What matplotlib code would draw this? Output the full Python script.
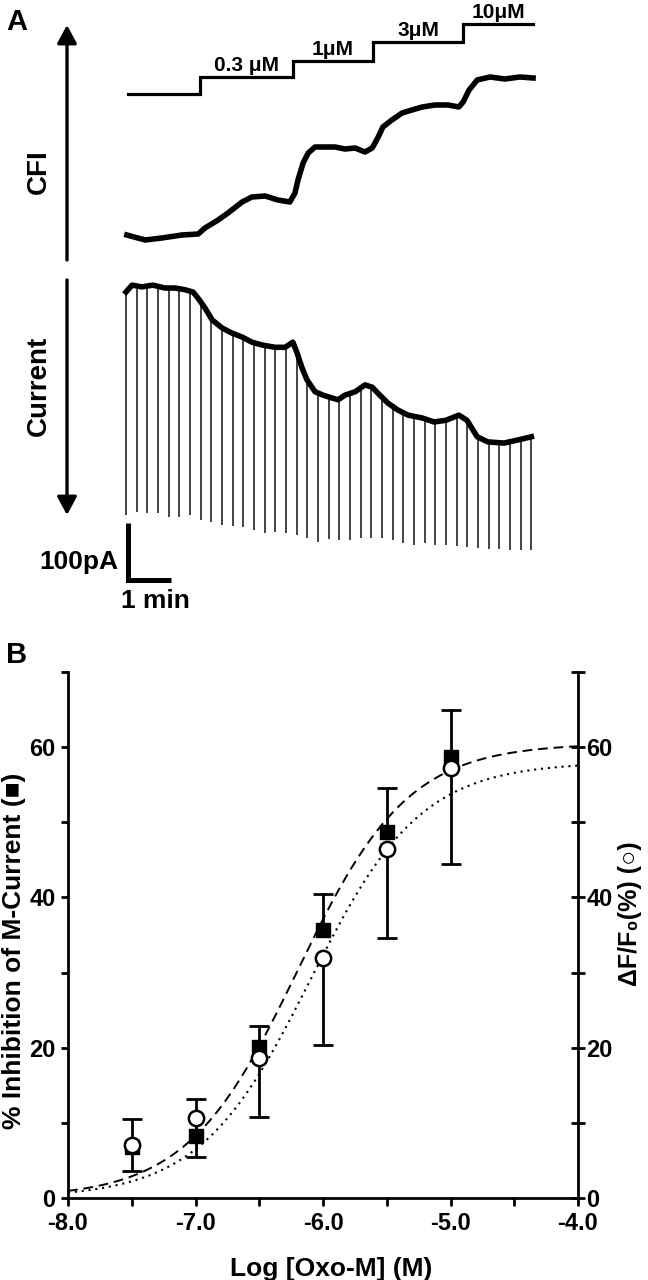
import numpy as np
import matplotlib
matplotlib.use("Agg")
import matplotlib.pyplot as plt

plt.rcParams['font.family'] = ['Liberation Sans', 'DejaVu Sans']
plt.rcParams['font.weight'] = 'bold'

# ---------------- Panel A data ----------------
# time in min, CFI in arbitrary units
cfi_t = [0.02, 0.45, 0.84, 1.31, 1.69, 1.85, 2.16, 2.39, 2.72, 2.95, 3.26, 3.56,
         3.84, 3.96, 4.03, 4.15, 4.27, 4.43, 4.66, 4.90, 5.13, 5.37, 5.60, 5.77,
         5.91, 6.02, 6.23, 6.47, 6.70, 6.94, 7.24, 7.55, 7.80, 7.90, 8.04, 8.23,
         8.53, 8.88, 9.23, 9.54]
cfi_au = [15, 10, 12, 15, 16, 22, 30, 37, 48, 53, 54, 50,
          48, 57, 70, 87, 97, 103, 103, 103, 101, 102, 98, 102,
          113, 123, 130, 137, 140, 143, 145, 145, 143, 148, 160, 170,
          173, 171, 173, 172]

# Oxo-M application steps (schematic)
conc_edges_t = [0.05, 1.73, 3.91, 5.79, 7.90, 9.54]
conc_level = [156, 173, 189, 208, 226]
conc_labels = ['', '0.3 μM', '1μM', '3μM', '10μM']

# holding current trace (pA)
cur_t = [0.00, 0.14, 0.37, 0.63, 0.91, 1.15, 1.38, 1.57, 1.69, 1.85, 2.02, 2.25,
         2.48, 2.72, 2.95, 3.19, 3.49, 3.73, 3.91, 4.01, 4.12, 4.24, 4.43, 4.62,
         4.83, 4.97, 5.13, 5.37, 5.60, 5.77, 5.95, 6.14, 6.37, 6.61, 6.94, 7.22,
         7.50, 7.80, 7.99, 8.23, 8.48, 8.86, 9.16, 9.50]
cur_pA = [450, 462, 459, 462, 457, 457, 454, 450, 439, 422, 401, 387,
          378, 371, 362, 357, 353, 353, 362, 343, 318, 296, 275, 269,
          264, 261, 269, 275, 287, 283, 269, 255, 243, 234, 229, 222,
          225, 234, 225, 196, 187, 185, 190, 196]

# deactivation relaxations (every 15 s), lowest point of each
spike_t = [0.0, 0.25, 0.5, 0.75, 1.0, 1.25, 1.5, 1.75, 2.0, 2.25, 2.5, 2.75, 3.0,
           3.25, 3.5, 3.75, 4.0, 4.25, 4.5, 4.75, 5.0, 5.25, 5.5, 5.75, 6.0, 6.25,
           6.5, 6.75, 7.0, 7.25, 7.5, 7.75, 8.0, 8.25, 8.5, 8.75, 9.0, 9.25, 9.5]
spike_min_pA = [59, 64, 62, 62, 55, 55, 59, 50, 46, 41, 39, 38, 32, 27,
                29, 27, 24, 18, 11, 17, 15, 15, 18, 18, 18, 15, 10, 6, 10, 6,
                6, 4, 3, 1, -1, -1, -3, -3, -3]

# ---------------- Panel B data ----------------
log_oxo = [-7.5, -7.0, -6.5, -6.0, -5.5, -5.0]
inhib_mean = [6.8, 8.2, 20.1, 35.6, 48.7, 58.7]
inhib_sem = [3.7, 5.0, 2.8, 4.8, 5.9, 6.3]      # drawn upward
dff_mean = [7.0, 10.6, 18.6, 32.0, 46.4, 57.2]
dff_sem = [3.4, 5.1, 7.8, 11.7, 11.8, 12.7]     # drawn downward

# Hill fits: top, logEC50, slope
inhib_fit = (60.5, -6.2, 1.0)
dff_fit = (58.0, -6.1, 1.0)


def hill(x, top, logec50, slope):
    return top / (1 + 10 ** ((logec50 - x) * slope))


fig = plt.figure(figsize=(6.48, 12.8), dpi=100)
W, H = 648, 1280

# ---- Panel A: fluorescence ----
xlim_a = (-2.953, 12.233)
ax_cfi = fig.add_axes([0, 1 - 270 / H, 1, 270 / H])
ax_cfi.set_xlim(*xlim_a)
ax_cfi.set_ylim(-20, 250)
ax_cfi.axis('off')

ax_cfi.step(conc_edges_t, conc_level + [conc_level[-1]], where='post',
            color='k', lw=2.3, solid_joinstyle='miter')
for i in range(1, len(conc_level)):
    xm = (conc_edges_t[i] + conc_edges_t[i + 1]) / 2
    ax_cfi.annotate(conc_labels[i], (xm, conc_level[i]), xytext=(0, 1.5),
                    textcoords='offset points', ha='center', va='bottom',
                    fontsize=15, fontweight='bold')
ax_cfi.plot(cfi_t, cfi_au, color='k', lw=4.0, solid_joinstyle='round')

# ---- Panel A: current ----
ax_cur = fig.add_axes([0, 0.5, 1, 370 / H])
ax_cur.set_xlim(*xlim_a)
ax_cur.set_ylim(-160.5, 488.6)
ax_cur.axis('off')

spike_top = np.interp(spike_t, cur_t, cur_pA)
ax_cur.vlines(spike_t, spike_min_pA, spike_top, color='#111111', lw=1.1)
ax_cur.plot(cur_t, cur_pA, color='k', lw=4.0)

# scale bar 100 pA / 1 min
sb_t, sb_i = 0.05, -55
ax_cur.plot([sb_t, sb_t, sb_t + 1], [sb_i + 100, sb_i, sb_i], color='k',
            lw=3.6, solid_joinstyle='miter', solid_capstyle='butt')
ax_cur.text(sb_t - 0.24, sb_i + 31, '100pA', ha='right', va='center', fontsize=19)
ax_cur.text(sb_t + 0.65, sb_i - 37, '1 min', ha='center', va='center', fontsize=19)

# arrows and side labels
ax_x = 67 / W
arrow_kw = dict(arrowstyle='-|>,head_length=0.5,head_width=0.27', lw=2.4,
                color='k', mutation_scale=22, shrinkA=0, shrinkB=0)
ax_cfi.annotate('', xy=(ax_x, 1 - 25 / H), xytext=(ax_x, 1 - 260 / H),
                xycoords='figure fraction', textcoords='figure fraction',
                arrowprops=arrow_kw)
ax_cfi.annotate('', xy=(ax_x, 1 - 515 / H), xytext=(ax_x, 1 - 280 / H),
                xycoords='figure fraction', textcoords='figure fraction',
                arrowprops=arrow_kw)
fig.text(39 / W, 1 - 172 / H, 'CFI', rotation=90, ha='center', va='center', fontsize=20)
fig.text(38.5 / W, 1 - 386 / H, 'Current', rotation=90, ha='center', va='center', fontsize=20)
fig.text(17 / W, 1 - 22 / H, 'A', ha='center', va='center', fontsize=21)
fig.text(17 / W, 1 - 655 / H, 'B', ha='center', va='center', fontsize=21)

# ---- Panel B ----
ax = fig.add_axes([68 / W, 82 / H, 510 / W, 526 / H])
ax2 = ax.twinx()

xs = np.linspace(-8, -4, 300)
ax.plot(xs, hill(xs, *inhib_fit), color='k', lw=1.4, dashes=(5, 3))
ax.plot(xs, hill(xs, *dff_fit), color='k', lw=1.5, dashes=(1, 2.3))

n = len(log_oxo)
err_kw = dict(fmt='none', ecolor='k', elinewidth=2.0, capsize=7, capthick=2.0)
eb_sq = ax.errorbar(log_oxo, inhib_mean, yerr=[[0] * n, inhib_sem], zorder=3, **err_kw)
eb_ci = ax.errorbar(log_oxo, dff_mean, yerr=[dff_sem, [0] * n], zorder=3, **err_kw)
# one-sided bars: hide the caps that sit on the mean
eb_sq[1][0].set_visible(False)
eb_ci[1][1].set_visible(False)
ax.plot(log_oxo, inhib_mean, 's', color='k', ms=10, zorder=4)
ax.plot(log_oxo, dff_mean, 'o', mfc='white', mec='k', mew=1.8, ms=11, zorder=5)

for a in (ax, ax2):
    a.set_xlim(-8, -4)
    a.set_ylim(0, 70)
    a.set_yticks(np.arange(0, 71, 10))
    a.set_yticklabels(['0', '', '20', '', '40', '', '60', ''])
    a.spines['top'].set_visible(False)
    for s in a.spines.values():
        s.set_linewidth(2.0)

ax.spines['right'].set_visible(False)
ax2.spines['left'].set_visible(False)
ax2.spines['bottom'].set_visible(False)

ax.set_xticks(np.arange(-8, -3.9, 0.5))
ax.set_xticklabels(['-8.0', '', '-7.0', '', '-6.0', '', '-5.0', '', '-4.0'])
ax.tick_params(axis='x', direction='out', length=6, width=2, pad=4, labelsize=17)
ax.tick_params(axis='y', direction='out', length=5, width=2, pad=4, labelsize=17)
ax2.tick_params(axis='y', direction='inout', length=10, width=2, pad=1, labelsize=17)

ax.set_xlabel('Log [Oxo-M] (M)', fontsize=19, fontweight='bold')
ax.xaxis.set_label_coords(0.516, -0.112)
ax.set_ylabel('% Inhibition of M-Current (\u25a0)', fontsize=19, fontweight='bold')
ax.yaxis.set_label_coords(-0.083, 0.47)
ax2.set_ylabel('\u0394F/F\u2080(%) (\u25cb)', fontsize=18, fontweight='bold',
               rotation=90, va='top')
ax2.yaxis.set_label_coords(1.078, 0.54)

fig.savefig('out.png', dpi=100)
